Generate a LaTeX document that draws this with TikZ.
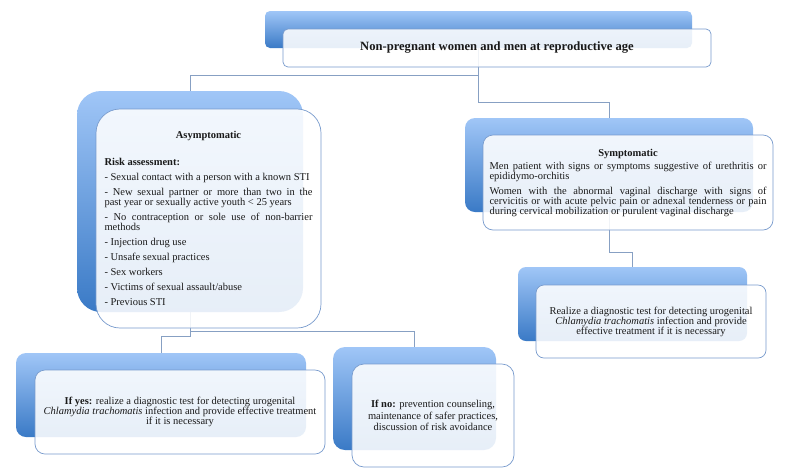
\documentclass[tikz,border=0pt]{standalone}
\usepackage{fontspec}
\setmainfont{Liberation Serif}
\usetikzlibrary{backgrounds,calc}
\definecolor{bluetop}{RGB}{160,198,247}
\definecolor{bluebot}{RGB}{58,122,198}
\definecolor{frontline}{RGB}{120,155,205}
\definecolor{connline}{RGB}{135,160,195}
\definecolor{txt}{RGB}{25,25,25}
\newcommand{\justsetup}{\parindent=0pt\parskip=5pt\rightskip=0pt\leftskip=0pt\spaceskip=0pt\xspaceskip=0pt\parfillskip=0pt plus 1fil\hyphenpenalty=10000\exhyphenpenalty=10000\relax}
\begin{document}
\begin{tikzpicture}[x=1pt,y=-1pt,
  backbox/.style={rectangle, rounded corners=#1, top color=bluetop, bottom color=bluebot, draw=none, inner sep=0pt},
  frontbox/.style={rectangle, rounded corners=#1, draw=frontline, line width=0.7pt, fill=white, fill opacity=0.88, text opacity=1, inner sep=0pt, text=txt},
  conn/.style={draw=connline, line width=0.8pt},
  bodyfont/.style={font=\fontsize{10.5}{10}\selectfont}
]
\useasboundingbox (0,0) rectangle (800,475);

% top
\node[backbox=5pt, minimum width=427pt, minimum height=37pt] (topb) at (478.5,29.5) {};
\node[frontbox=5pt, minimum width=428pt, minimum height=38pt, font=\bfseries\fontsize{12.6}{14}\selectfont] (topf) at (497,48) {Non-pregnant women and men at reproductive age};

% asymptomatic
\node[backbox=24pt, minimum width=226pt, minimum height=221pt] (asymb) at (190,201.5) {};
\node[frontbox=24pt, minimum width=225pt, minimum height=219pt, text width=208pt, bodyfont] (asymf) at (208.5,218.5) {\justsetup
{\centering\textbf{Asymptomatic}\par}
\vspace{12pt}
\textbf{Risk assessment:}\par
- Sexual contact with a person with a known STI\par
- New sexual partner or more than two in the\linebreak past year or sexually active youth < 25 years\par
- No contraception or sole use of non-barrier\linebreak methods\par
- Injection drug use\par
- Unsafe sexual practices\par
- Sex workers\par
- Victims of sexual assault/abuse\par
- Previous STI\par};

% symptomatic
\node[backbox=10pt, minimum width=288pt, minimum height=94pt] (symb) at (609,165) {};
\node[frontbox=10pt, minimum width=290pt, minimum height=95pt, text width=277pt, bodyfont] (symf) at (628,182.5) {\justsetup
{\centering\textbf{Symptomatic}\par}
\vspace{-2pt}
Men patient with signs or symptoms suggestive of urethritis or\linebreak epididymo-orchitis\par
Women with the abnormal vaginal discharge with signs of\linebreak cervicitis or with acute pelvic pain or adnexal tenderness or pain\linebreak during cervical mobilization or purulent vaginal discharge\par};

% realize
\node[backbox=8pt, minimum width=229pt, minimum height=74pt] (realb) at (632.5,304) {};
\node[frontbox=8pt, minimum width=230pt, minimum height=73pt, align=center, bodyfont] (realf) at (651,321.5) {Realize a diagnostic test for detecting urogenital\\ \textit{Chlamydia trachomatis} infection and provide\\ effective treatment if it is necessary};

% if yes
\node[backbox=10pt, minimum width=290pt, minimum height=84pt] (yesb) at (161,395) {};
\node[frontbox=10pt, minimum width=290pt, minimum height=84pt, align=center, bodyfont] (yesf) at (180,412) {\textbf{If yes:} realize a diagnostic test for detecting urogenital\\ \textit{Chlamydia trachomatis} infection and provide effective treatment\\ if it is necessary};

% if no
\node[backbox=12pt, minimum width=163pt, minimum height=103pt] (nob) at (414.5,398.5) {};
\node[frontbox=12pt, minimum width=162pt, minimum height=103pt, align=center, font=\fontsize{10.5}{11.5}\selectfont] (nof) at (433,415.5) {\textbf{If no:} prevention counseling,\\ maintenance of safer practices,\\ discussion of risk avoidance};

\begin{scope}[on background layer]
\fill[white] (0,0) rectangle (800,475);
\draw[conn] (topb.south) |- ($(asymb.north)+(0,-15)$) -- (asymb.north);
\draw[conn] (topb.south) |- ($(symb.north)+(0,-15)$) -- (symb.north);
\draw[conn] (asymb.south) |- ($(yesb.north)+(0,-16)$) -- (yesb.north);
\draw[conn] (asymb.south) |- ($(nob.north)+(0,-15)$) -- (nob.north);
\draw[conn] (symb.south) |- ($(realb.north)+(0,-14)$) -- (realb.north);
\end{scope}
\end{tikzpicture}
\end{document}
